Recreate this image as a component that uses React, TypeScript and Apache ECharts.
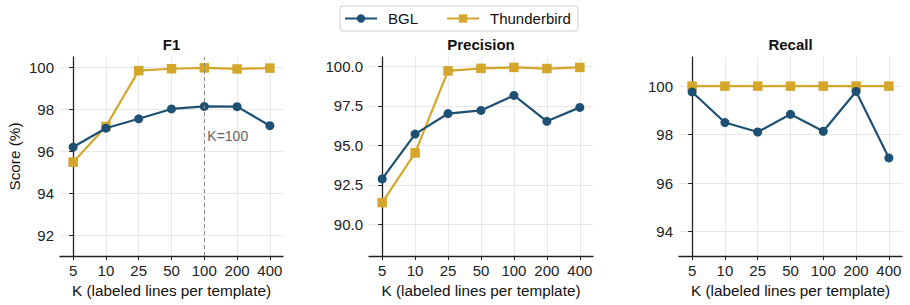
import React, { useEffect, useRef } from "react";
import * as echarts from "echarts";

const kLabels = ["5", "10", "25", "50", "100", "200", "400"];
const panelTitles = ["F1", "Precision", "Recall"];
const seriesNames = ["BGL", "Thunderbird"];

const f1BGL = [96.2, 97.1, 97.55, 98.02, 98.14, 98.13, 97.22];
const f1TB = [95.48, 97.18, 99.85, 99.94, 99.98, 99.93, 99.97];
const precBGL = [92.88, 95.72, 97.02, 97.22, 98.17, 96.53, 97.41];
const precTB = [91.38, 94.53, 99.72, 99.88, 99.94, 99.87, 99.94];
const recBGL = [99.76, 98.5, 98.11, 98.84, 98.14, 99.78, 97.04];
const recTB = [100, 100, 100, 100, 100, 100, 100];

const yTicks = [
  [92, 94, 96, 98, 100],
  [90, 92.5, 95, 97.5, 100],
  [94, 96, 98, 100],
];
const yRanges = [
  [91, 100.5],
  [88, 100.6],
  [93, 101.2],
];
const yDecimals = [0, 1, 0];

const COLORS = ["#1e5073", "#d4a62a"];
const FONT = "Liberation Sans, Arial, sans-serif";

export default function App() {
  const ref = useRef<HTMLDivElement>(null);
  useEffect(() => {
    document.body.style.margin = "0";
    if (!ref.current) return;
    const chart = echarts.init(ref.current, undefined, { renderer: "svg" });
    const grids = [
      { left: 60, top: 57, width: 223, height: 199 },
      { left: 369, top: 57, width: 224, height: 199 },
      { left: 679, top: 57, width: 223, height: 199 },
    ];
    const data = [
      [f1BGL, f1TB],
      [precBGL, precTB],
      [recBGL, recTB],
    ];
    const idx = kLabels.map((_, i) => i);
    const series: any[] = [];
    data.forEach((pair, p) => {
      pair.forEach((vals, s) => {
        const ser: any = {
          name: seriesNames[s],
          type: "line",
          xAxisIndex: p,
          yAxisIndex: p,
          data: vals.map((v, i) => [idx[i], v]),
          symbol: s === 0 ? "circle" : "rect",
          symbolSize: s === 0 ? 9 : 9.5,
          lineStyle: { width: 2.2, color: COLORS[s] },
          itemStyle: { color: COLORS[s] },
          z: s === 0 ? 3 : 2,
        };
        if (p === 0 && s === 0) {
          ser.markLine = {
            silent: true,
            symbol: "none",
            label: { show: false },
            lineStyle: { type: [4, 3], color: "#888", width: 1 },
            data: [{ xAxis: 4 }],
          };
          ser.markPoint = {
            symbol: "circle",
            symbolSize: 0,
            silent: true,
            data: [
              {
                coord: [4, 96.72],
                label: {
                  show: true,
                  position: "right",
                  distance: 3,
                  formatter: "K=100",
                  color: "#666",
                  fontSize: 14,
                  fontFamily: FONT,
                },
              },
            ],
          };
        }
        series.push(ser);
      });
    });

    const option: any = {
      animation: false,
      textStyle: { fontFamily: FONT },
      title: panelTitles.map((t, p) => ({
        text: t,
        left: grids[p].left + grids[p].width / 2,
        top: 37,
        textAlign: "center",
        padding: 0,
        textStyle: { fontSize: 15, fontWeight: "bold", color: "#111", fontFamily: FONT },
      })),
      legend: {
        left: 340,
        top: 6,
        data: seriesNames,
        padding: [5, 7, 5, 4],
        itemGap: 28,
        itemWidth: 32,
        itemHeight: 10.5,
        borderColor: "#ccc",
        borderWidth: 1,
        borderRadius: 3,
        textStyle: { fontSize: 15, color: "#111", fontFamily: FONT, padding: [0, 0, 0, 6] },
      },
      grid: grids,
      xAxis: grids.map((_, p) => ({
        type: "value",
        gridIndex: p,
        min: -0.4,
        max: 6.4,
        name: "K (labeled lines per template)",
        nameLocation: "middle",
        nameGap: 26,
        nameTextStyle: { fontSize: 15.3, color: "#111", fontFamily: FONT },
        axisLine: { show: true, lineStyle: { color: "#222", width: 1.3 } },
        axisTick: { show: true, length: 4, customValues: idx, lineStyle: { color: "#222" } },
        axisLabel: {
          customValues: idx,
          formatter: (v: number) => kLabels[Math.round(v)] ?? "",
          fontSize: 15,
          color: "#222",
          margin: 7,
        },
        splitLine: { show: true, lineStyle: { color: "#e8e8e8", width: 1 } },
      })),
      yAxis: grids.map((_, p) => ({
        type: "value",
        gridIndex: p,
        min: yRanges[p][0],
        max: yRanges[p][1],
        name: p === 0 ? "Score (%)" : "",
        nameLocation: "middle",
        nameGap: 38,
        nameTextStyle: { fontSize: 15.3, color: "#111", fontFamily: FONT },
        axisLine: { show: true, lineStyle: { color: "#222", width: 1.3 } },
        axisTick: { show: true, length: 4, customValues: yTicks[p], lineStyle: { color: "#222" } },
        axisLabel: {
          customValues: yTicks[p],
          formatter: (v: number) => v.toFixed(yDecimals[p]),
          fontSize: 15,
          color: "#222",
          margin: 6,
        },
        splitLine: { show: true, lineStyle: { color: "#e8e8e8", width: 1 } },
      })),
      series,
    };
    chart.setOption(option);
    return () => chart.dispose();
  }, []);
  return <div ref={ref} style={{ width: 910, height: 305 }} />;
}
